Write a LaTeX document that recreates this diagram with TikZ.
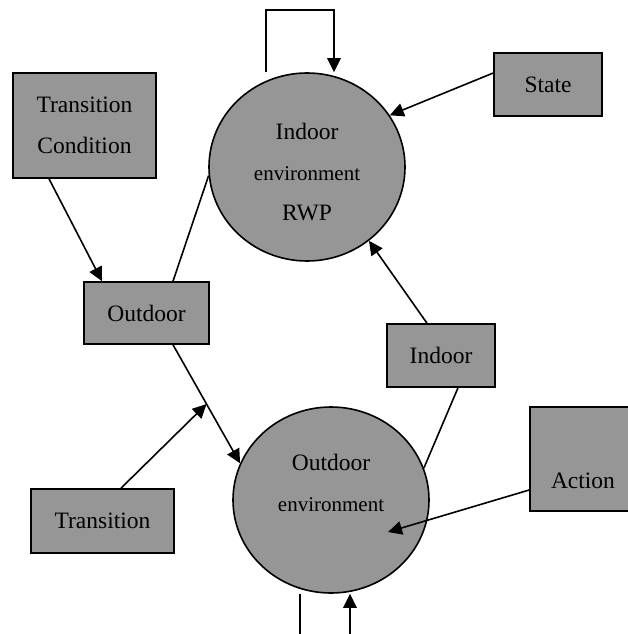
\documentclass[tikz,border=0pt]{standalone}
\usepackage{fontspec}
\setmainfont{Liberation Serif}
\usepackage{tikz}
\usetikzlibrary{calc, positioning, arrows.meta, shapes.geometric}
\definecolor{fillgray}{RGB}{150,150,150}
\newcommand{\bigfont}{\fontsize{23.5}{40.5}\selectfont}
\newcommand{\envfont}{\fontsize{21}{40.5}\selectfont}
\tikzstyle{box}=[draw, fill=fillgray, shape=rectangle, line width=1.6pt, inner sep=0pt, font=\bigfont]
\tikzstyle{env}=[draw, fill=fillgray, shape=ellipse, line width=1.6pt, minimum width=196pt, minimum height=188pt, inner sep=0pt]
\tikzstyle{txt}=[inner sep=0pt, font=\bigfont, align=center]
\tikzset{>={Triangle[length=14pt, width=13.5pt]}}

\begin{document}
\begin{tikzpicture}[x=1pt, y=-1pt, line width=1.6pt]
\useasboundingbox (0,0) rectangle (628,634);
\clip (0,0) rectangle (628,634);
% the two environments
\node[env] (inC) at (307,167) {};
\node[txt] (inT) at (307,172.5) {Indoor\\{\envfont environment}\\RWP};
\node[env, minimum height=186pt] (outC) at (331,500) {};
\node[txt] (outT) at (331,483) {Outdoor\\{\envfont environment}};
% the boxes
\node[box, align=center, minimum width=143pt, minimum height=105pt] (tc) at (84.5,125.5) {Transition\\Condition};
\node[box, minimum width=125pt, minimum height=62pt] (od) at (146.5,313) {Outdoor};
\node[box, minimum width=108pt, minimum height=63pt] (st) at (548,84.5) {State};
\node[box, minimum width=108pt, minimum height=63pt] (id) at (441,355.5) {Indoor};
\node[box, minimum width=106pt, text height=81pt, text depth=23pt] (ac) at (583,459) {Action};
\node[box, minimum width=143pt, minimum height=64pt] (tr) at (102.5,521) {Transition};
% the loop on top
\draw[->] ([xshift=-41pt]inC.north) -- ++(0,-62) -| ([xshift=27pt]inC.north);
% the connectors
\draw[->] ([yshift=11.5pt]st.west) -- (inC.32);
\draw[->] ([xshift=-35.5pt]tc.south) -- ([xshift=-44.5pt]od.north);
\draw ([xshift=26.5pt]od.north) -- (inC.185);
\draw[->] ([xshift=26.5pt]od.south) -- coordinate[pos=0.5] (odMid) (outC.158);
\draw[->] ([xshift=18.5pt]tr.north) -- (odMid);
\draw[->] ([xshift=-14pt]id.north) -- (inC.-50);
\draw ([xshift=17pt]id.south) -- (outC.19);
\coordinate (acEnd) at ([shift={(57,32)}]outC.center);
\draw[->] ([yshift=-31pt]ac.west) -- (acEnd);
% the two stubs below
\draw ([xshift=-31pt]outC.south) -- ++(0,45);
\draw[<-] ([xshift=19pt]outC.south) -- ++(0,45);
\end{tikzpicture}
\end{document}
